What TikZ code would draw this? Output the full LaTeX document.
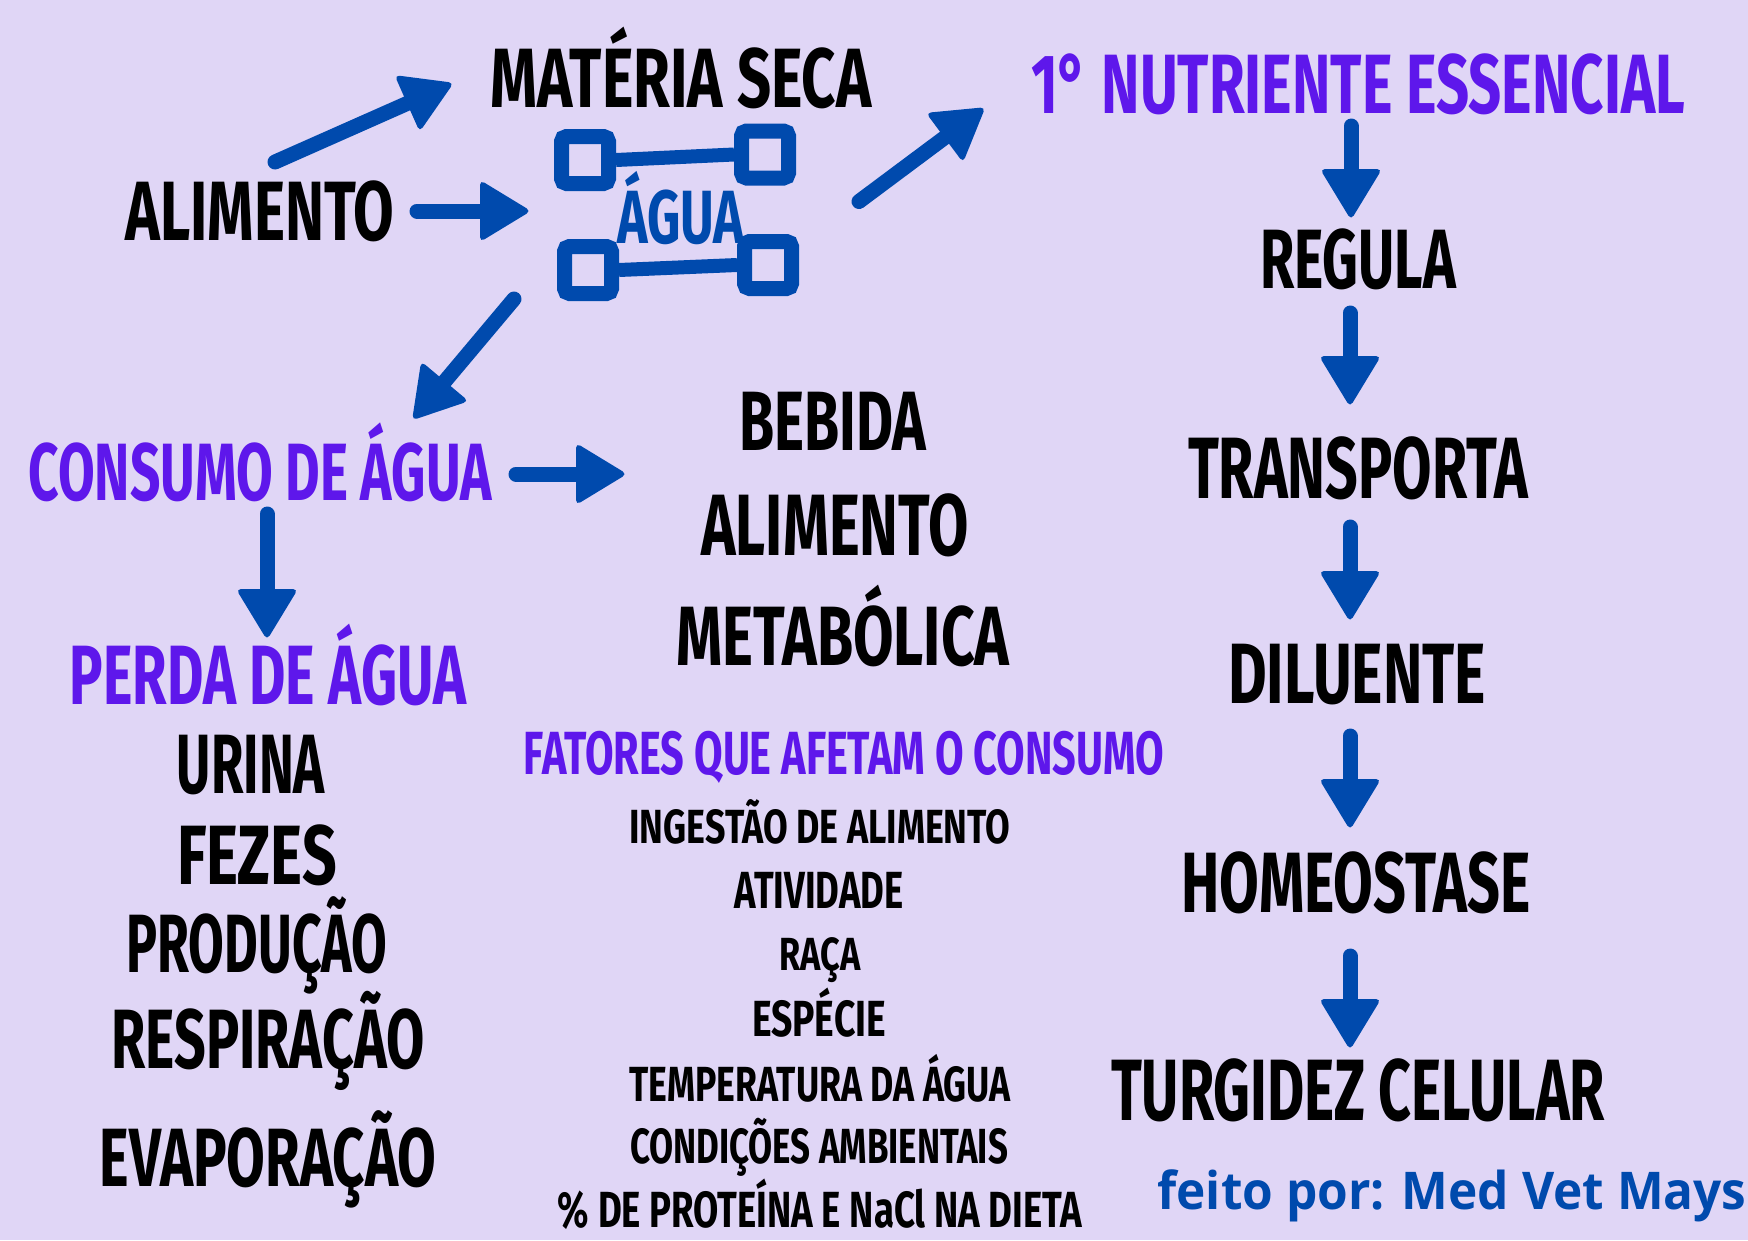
\documentclass[tikz,border=0pt]{standalone}
\usepackage{fontspec}
\setmainfont{Fira Sans}
\newfontfamily\osans{Open Sans}
\usetikzlibrary{calc}
\definecolor{bgc}{RGB}{224,214,246}
\definecolor{purp}{RGB}{94,23,235}
\definecolor{blu}{RGB}{0,74,173}
\newcommand\T[3]{\fontsize{\fpeval{#1*1.4514}}{\fpeval{#1*1.8}}\selectfont\resizebox{#2pt}{\height}{#3}}
\newcommand\barrow[2]{%
  \coordinate (hb) at ($(#2)!48pt!(#1)$);
  \coordinate (tp) at ($(#2)!-3pt!(#1)$);
  \draw[blu,line width=15pt,line cap=round] (#1) -- (hb);
  \fill[blu,rounded corners=5pt] (tp) -- ($(hb)!31pt!90:(tp)$) -- ($(hb)!31pt!-90:(tp)$) -- cycle;}
\begin{document}
\begin{tikzpicture}[x=1pt,y=-1pt,
  lbl/.style={anchor=base,inner sep=0pt,font=\bfseries,text=black},
  ttl/.style={lbl,text=purp},
  sq/.style={draw=blu,line width=15pt,minimum size=47pt,inner sep=0pt,rounded corners=5pt},
  bar/.style={draw=blu,line width=14pt}]
\useasboundingbox (0,0) rectangle (1748,1240);
\fill[bgc] (0,0) rectangle (1748,1240);

% icon
\node[sq] (tl) at (585,160) {};
\node[sq] (tr) at (765,154.5) {};
\node[sq] (bl) at (588,270) {};
\node[sq] (br) at (768,265) {};
\draw[bar] (tl.east) -- (tr.west);
\draw[bar] (bl.east) -- (br.west);
\node[lbl,text=blu] (agua) at (681,243) {\T{52}{127}{ÁGUA}};

% top row
\node[lbl] (mseca) at (681,107) {\T{58}{381}{MATÉRIA SECA}};
\node[lbl] (alim1) at (260,240) {\T{58}{269}{ALIMENTO}};
\node[ttl] (nutri) at (1358,113) {\T{58}{654}{1° NUTRIENTE ESSENCIAL}};

% right column
\node[lbl] (regula) at (1358,288) {\T{58}{196}{REGULA}};
\node[lbl] (transp) at (1358,498) {\T{60}{340}{TRANSPORTA}};
\node[lbl] (dilu) at (1357,703) {\T{59}{258}{DILUENTE}};
\node[lbl] (homeo) at (1356,912) {\T{59}{349}{HOMEOSTASE}};
\node[lbl] (turg) at (1358,1120) {\T{60}{494}{TURGIDEZ CELULAR}};

% left column
\node[ttl] (consumo) at (260,500) {\T{56}{463}{CONSUMO DE ÁGUA}};
\node[ttl] (perda) at (268,704) {\T{58}{396}{PERDA DE ÁGUA}};
\node[lbl] (urina) at (251,793) {\T{58}{148}{URINA}};
\node[lbl] (fezes) at (257,884) {\T{58}{160}{FEZES}};
\node[lbl] (prod) at (257,972) {\T{57}{261}{PRODUÇÃO}};
\node[lbl] (resp) at (268,1068) {\T{58}{313}{RESPIRAÇÃO}};
\node[lbl] (evap) at (268,1186) {\T{57}{337}{EVAPORAÇÃO}};

% middle column
\node[lbl] (bebida) at (833,450) {\T{58}{187}{BEBIDA}};
\node[lbl] (alim2) at (835,555) {\T{60}{267}{ALIMENTO}};
\node[lbl] (metab) at (843,665) {\T{58}{333}{METABÓLICA}};
\node[ttl] (fatores) at (844,774) {\T{42}{640}{FATORES QUE AFETAM O CONSUMO}};
\node[lbl] (f1) at (820,843) {\T{33}{381}{INGESTÃO DE ALIMENTO}};
\node[lbl] (f2) at (819,908) {\T{36}{169}{ATIVIDADE}};
\node[lbl] (f3) at (820,970) {\T{32}{81}{RAÇA}};
\node[lbl] (f4) at (819,1036) {\T{35}{134}{ESPÉCIE}};
\node[lbl] (f5) at (820,1101) {\T{34}{381}{TEMPERATURA DA ÁGUA}};
\node[lbl] (f6) at (819,1163) {\T{34}{378}{CONDIÇÕES AMBIENTAIS}};
\node[lbl] (f7) at (820,1227) {\T{35}{524}{\% DE PROTEÍNA E NaCl NA DIETA}};

\node[anchor=base,inner sep=0pt,text=blu,font=\osans\bfseries] (feito) at (1452,1209)
  {\fontsize{52}{60}\selectfont\resizebox{589pt}{\height}{feito por: Med Vet Mays}};

% arrow end points
\coordinate (a1s) at (275,162);  \coordinate (a1e) at (451,84);
\coordinate (a2s) at (417,211);  \coordinate (a2e) at (528,211);
\coordinate (a3s) at (859,201.5); \coordinate (a3e) at (983,109);
\coordinate (a4s) at (514,299);  \coordinate (a4e) at (414,418);
\coordinate (a5s) at (516,474);  \coordinate (a5e) at (624,474);
\coordinate (a6s) at (267,514);  \coordinate (a6e) at (267,637);
\coordinate (r1s) at (1351,126); \coordinate (r1e) at (1351,217);
\coordinate (r2s) at (1350,313); \coordinate (r2e) at (1350,404);
\coordinate (r3s) at (1350,527); \coordinate (r3e) at (1350,619);
\coordinate (r4s) at (1350,736); \coordinate (r4e) at (1350,827);
\coordinate (r5s) at (1350,956); \coordinate (r5e) at (1350,1047);

\barrow{a1s}{a1e}
\barrow{a2s}{a2e}
\barrow{a3s}{a3e}
\barrow{a4s}{a4e}
\barrow{a5s}{a5e}
\barrow{a6s}{a6e}
\barrow{r1s}{r1e}
\barrow{r2s}{r2e}
\barrow{r3s}{r3e}
\barrow{r4s}{r4e}
\barrow{r5s}{r5e}
\end{tikzpicture}
\end{document}
